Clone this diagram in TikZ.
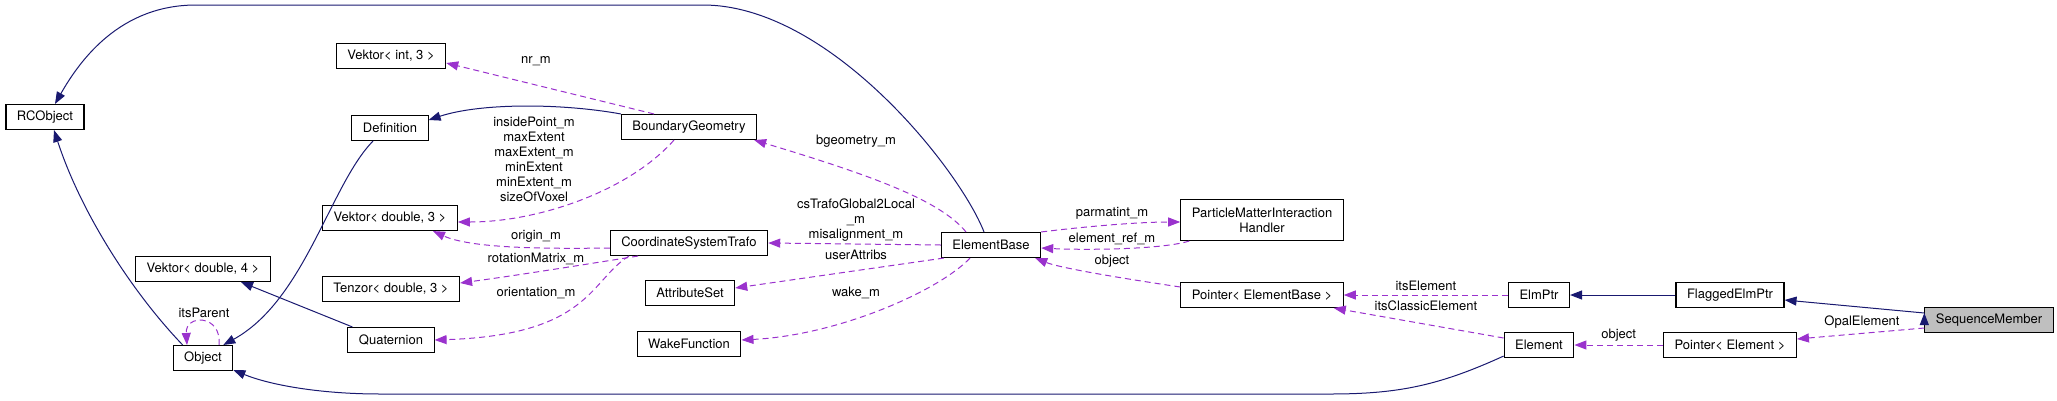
\documentclass[tikz,border=0pt]{standalone}
\usepackage{fontspec}
\setmainfont{TeX Gyre Heros}
\usetikzlibrary{arrows.meta, positioning, calc}
\definecolor{edgeblue}{RGB}{25,25,112}
\definecolor{edgepurple}{RGB}{154,50,205}
\tikzset{
>={Triangle[length=12pt,width=9pt]}, % filled arrow heads, like doxygen draws them
every node/.style={font=\fontsize{13}{15}\selectfont}, % same size for boxes and labels
cls/.style={draw, line width=1.1pt, minimum height=25pt, inner xsep=11pt, inner ysep=2pt, fill=white}, % one class box
inherit/.style={->, edgeblue, line width=1pt}, % solid edge for a base class
usage/.style={->, edgepurple, line width=1pt, dash pattern=on 6pt off 4pt}, % dashed edge for a member
lbl/.style={inner sep=0pt, align=center, text=black}, % text on an edge
}

\begin{document}
\begin{tikzpicture}[x=1pt, y=-1pt]
        \useasboundingbox (0,0) rectangle (2057,400);

        \node[cls] (rco) at (45,117) {RCObject};
        \node[cls] (vint) at (391,56) {Vektor< int, 3 >};
        \node[cls] (defn) at (390,128) {Definition};
        \node[cls] (bgeo) at (689,127) {BoundaryGeometry};
        \node[cls] (vd3) at (390,218) {Vektor< double, 3 >};
        \node[cls] (cst) at (689,243) {CoordinateSystemTrafo};
        \node[cls] (vd4) at (203,269) {Vektor< double, 4 >};
        \node[cls] (tenz) at (391,289) {Tenzor< double, 3 >};
        \node[cls] (quat) at (391,340) {Quaternion};
        \node[cls] (obj) at (203,358) {Object};
        \node[cls] (attr) at (690,293) {AttributeSet};
        \node[cls] (wake) at (689,344) {WakeFunction};
        \node[cls] (elb) at (991,245) {ElementBase};
        \node[cls, minimum height=41pt, align=center] (pmih) at (1262,220) {ParticleMatterInteraction\\Handler};
        \node[cls] (pelb) at (1262,295) {Pointer< ElementBase >};
        \node[cls] (elmp) at (1539,295) {ElmPtr};
        \node[cls] (felp) at (1730,295) {FlaggedElmPtr};
        \node[cls, fill=black!25] (seqm) at (1989,320) {SequenceMember};
        \node[cls] (elem) at (1539,345) {Element};
        \node[cls] (pel) at (1730,345) {Pointer< Element >};

        % base classes
        \draw[inherit] ([xshift=-7pt]elb.north) .. controls (960,170) and (830,5) .. (703,5)
            -- (196,5) .. controls (120,5) and (80,60) .. ([xshift=10pt]rco.north);
        \draw[inherit] ([xshift=10pt]obj.north west) .. controls (130,290) and (80,210) .. ([xshift=9pt]rco.south);
        \draw[inherit] ([xshift=-17pt]defn.south) .. controls (330,185) and (305,300) .. ([xshift=-10pt]obj.north east);
        \draw[inherit] (bgeo.north west) .. controls (560,103) and (480,103) .. ([yshift=8pt]defn.east);
        \draw[inherit] ([xshift=5pt]quat.north west) -- ([xshift=38pt]vd4.south);
        \draw[inherit] ([yshift=2pt]elem.south west) .. controls (1440,385) and (1400,394) .. (1330,394)
            -- (380,394) .. controls (320,394) and (270,385) .. ([yshift=1pt]obj.south east);
        \draw[inherit] (felp) edge (elmp)
            ([yshift=7pt]seqm.west) edge ([yshift=-5pt]felp.east);

        % members
        \draw[usage] ([xshift=-35pt]bgeo.north) -- ([yshift=-7pt]vint.east)
            node[lbl] at (536,61) {nr\_m};
        \draw[usage] ([xshift=-15pt]bgeo.south) .. controls (630,190) and (540,222) .. ([yshift=-4pt]vd3.east)
            node[lbl] at (534,159) {insidePoint\_m\\maxExtent\\maxExtent\_m\\minExtent\\minExtent\_m\\sizeOfVoxel};
        \draw[usage] ([yshift=-5pt]cst.west) .. controls (540,249) and (470,248) .. ([xshift=43pt]vd3.south)
            node[lbl] at (536,236) {origin\_m};
        \draw[usage] ([xshift=-51pt]cst.south) .. controls (600,262) and (520,275) .. ([yshift=6pt]tenz.east)
            node[lbl] at (536,259) {rotationMatrix\_m};
        \draw[usage] ([xshift=-60pt]cst.south) .. controls (590,280) and (590,335) .. (quat.east)
            node[lbl] at (536,293) {orientation\_m};
        \draw[usage] ([xshift=-25pt]elb.north) .. controls (940,200) and (870,175) .. ([xshift=-3pt]bgeo.south east)
            node[lbl] at (856,141) {bgeometry\_m};
        \draw[usage] (elb.west) -- (cst.east)
            node[lbl] at (856,220) {csTrafoGlobal2Local\\\_m\\misalignment\_m};
        \draw[usage] ([xshift=3pt]elb.south west) -- ([yshift=5pt]attr.east)
            node[lbl] at (856,255) {userAttribs};
        \draw[usage] ([xshift=-21pt]elb.south) .. controls (940,290) and (840,335) .. ([yshift=4pt]wake.east)
            node[lbl] at (856,293) {wake\_m};
        \draw[usage] (elb.north east) .. controls (1090,226) and (1140,222) .. ([yshift=-2pt]pmih.west)
            node[lbl] at (1112,213) {parmatint\_m};
        \draw[usage] ([xshift=9pt]pmih.south west) .. controls (1160,250) and (1080,250) .. ([yshift=-3pt]elb.east)
            node[lbl] at (1112,239) {element\_ref\_m};
        \draw[usage] ([yshift=8pt]pelb.west) .. controls (1120,278) and (1060,268) .. ([xshift=-6pt]elb.south east)
            node[lbl] at (1112,261) {object};
        \draw[usage] ([yshift=7pt]elem.west) -- ([xshift=-10pt]pelb.south east)
            node[lbl] at (1426,306) {itsClassicElement};
        \draw[usage] ([yshift=-8pt]seqm.west) -- ([yshift=6pt]pel.east)
            node[lbl] at (1862,322) {OpalElement};
        \draw[usage] (elmp) edge node[lbl, above=4pt] {itsElement} (pelb)
            (pel) edge node[lbl, above=3pt] {object} (elem);
        \draw[usage] ([xshift=16pt]obj.north) .. controls (222,314) and (185,314) .. ([xshift=-16pt]obj.north)
            node[lbl] at (204,313) {itsParent};
\end{tikzpicture}
\end{document}
